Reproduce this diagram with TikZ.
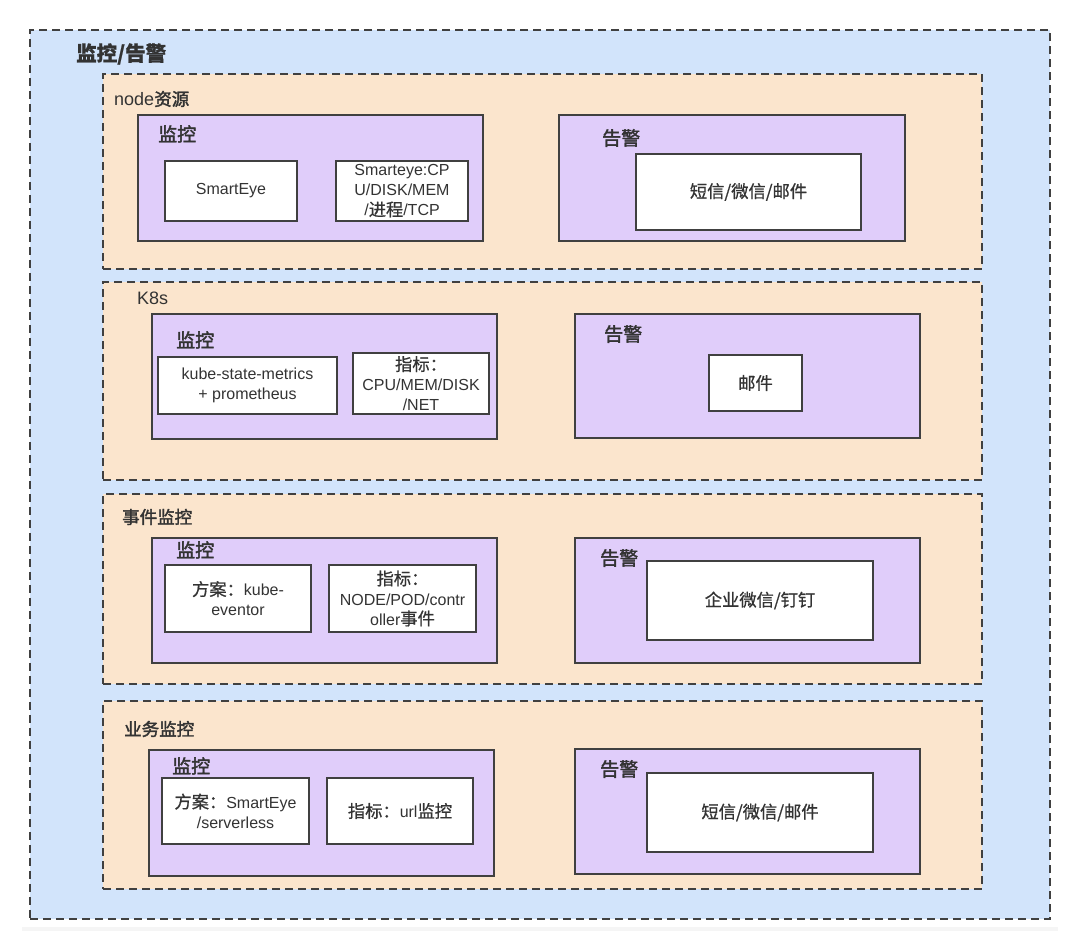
\documentclass[tikz,border=0pt]{standalone}
\usepackage{fontspec}
\setmainfont{Liberation Sans}
\newfontfamily\cjk{Noto Sans CJK SC}[FakeBold=0.8, Scale=1.08]
\newfontfamily\cjkmed{Noto Sans CJK SC}[FakeBold=2]
\usetikzlibrary{shadows}
\definecolor{bgblue}{HTML}{D2E4FB}
\definecolor{secorange}{HTML}{FBE5CD}
\definecolor{boxpurple}{HTML}{E0CDFA}
\definecolor{edge}{HTML}{404040}
\definecolor{ink}{HTML}{333333}
\tikzset{
  card/.style    = {fill=white, draw=none, inner sep=0pt,
                    drop shadow={opacity=0.08, shadow xshift=0pt, shadow yshift=-4pt}},
  outerbox/.style = {draw=edge, fill=bgblue, dash pattern=on 8pt off 5pt,
                    line width=1.5pt, inner sep=0pt},
  section/.style = {draw=edge, fill=secorange, dash pattern=on 8pt off 5pt,
                    line width=1.4pt, inner sep=0pt},
  panel/.style   = {draw=edge, fill=boxpurple, line width=1.4pt, inner sep=0pt},
  item/.style    = {draw=edge, fill=white, line width=1.4pt, align=center,
                    text=ink, font=\fontsize{16}{20}\selectfont, inner sep=2pt},
  title/.style   = {anchor=west, text=ink, inner sep=0pt,
                    font=\fontsize{19}{24}\selectfont\cjk\bfseries},
  sectitle/.style = {anchor=west, text=ink, inner sep=0pt,
                    font=\fontsize{18}{20}\selectfont},
  paneltitle/.style = {anchor=west, text=ink, inner sep=0pt,
                    font=\fontsize{19}{22}\selectfont\cjkmed}
}
\begin{document}
\begin{tikzpicture}[x=1pt, y=-1pt]
\useasboundingbox (0,0) rectangle (1080,949);

% outer frame
\node[card, minimum width=1036, minimum height=905]     at (540,474.5) (paper) {};
\node[outerbox, minimum width=1020, minimum height=889] at (540,474.5) (all)   {};
\node[title] at (76,54) (allt) {监控/告警};

% sections
\node[section, minimum width=879, minimum height=195] at (542.5,171.5) (sec1) {};
\node[section, minimum width=879, minimum height=198] at (542.5,381)   (sec2) {};
\node[section, minimum width=879, minimum height=190] at (542.5,589)   (sec3) {};
\node[section, minimum width=879, minimum height=188] at (542.5,795)   (sec4) {};
\node[sectitle] at (114,99)  (sec1t) {node{\fontsize{17.5}{20}\selectfont\cjkmed 资源}};
\node[sectitle] at (137,298) (sec2t) {K8s};
\node[sectitle] at (122,517) (sec3t) {\fontsize{17.5}{20}\selectfont\cjkmed 事件监控};
\node[sectitle] at (124,729) (sec4t) {\fontsize{17.5}{20}\selectfont\cjkmed 业务监控};

% node资源
\node[panel, minimum width=345, minimum height=126] at (310.5,178) (mon1) {};
\node[panel, minimum width=346, minimum height=126] at (732,178)   (alr1) {};
\node[paneltitle] at (158,134) (mon1t) {监控};
\node[paneltitle] at (602,138) (alr1t) {告警};
\node[item, minimum width=132, minimum height=60] at (231,191)   (smart)  {SmartEye};
\node[item, minimum width=132, minimum height=60] at (402,191)   (nodeidx) {Smarteye:CP\\U/DISK/MEM\\/{\cjk 进程}/TCP};
\node[item, minimum width=225, minimum height=76] at (748.5,192) (nodealr) {\cjk 短信/微信/邮件};

% K8s
\node[panel, minimum width=345, minimum height=125] at (324.5,376.5) (mon2) {};
\node[panel, minimum width=345, minimum height=124] at (747.5,376)   (alr2) {};
\node[paneltitle] at (176,340) (mon2t) {监控};
\node[paneltitle] at (604,334) (alr2t) {告警};
\node[item, minimum width=179, minimum height=57] at (247.5,385.5) (ksm)    {kube-state-metrics\\+ prometheus};
\node[item, minimum width=136, minimum height=61] at (421,383.5)   (k8sidx) {{\cjk 指标：}\\CPU/MEM/DISK\\/NET};
\node[item, minimum width=93,  minimum height=56] at (755.5,383)   (k8salr) {\cjk 邮件};

% 事件监控
\node[panel, minimum width=345, minimum height=125] at (324.5,600.5) (mon3) {};
\node[panel, minimum width=345, minimum height=125] at (747.5,600.5) (alr3) {};
\node[paneltitle] at (176,550) (mon3t) {监控};
\node[paneltitle] at (600,558) (alr3t) {告警};
\node[item, minimum width=146, minimum height=67] at (238,598.5)   (evplan) {{\cjk 方案：}kube-\\eventor};
\node[item, minimum width=147, minimum height=67] at (402.5,598.5) (evidx)  {{\cjk 指标：}\\NODE/POD/contr\\oller{\cjk 事件}};
\node[item, minimum width=226, minimum height=79] at (760,600.5)   (evalr)  {\cjk 企业微信/钉钉};

% 业务监控
\node[panel, minimum width=345, minimum height=126] at (321.5,813)   (mon4) {};
\node[panel, minimum width=345, minimum height=125] at (747.5,811.5) (alr4) {};
\node[paneltitle] at (172,766) (mon4t) {监控};
\node[paneltitle] at (600,769) (alr4t) {告警};
\node[item, minimum width=147, minimum height=66] at (235.5,811) (bizplan) {{\cjk 方案：}SmartEye\\/serverless};
\node[item, minimum width=146, minimum height=66] at (400,811)   (bizidx)  {{\cjk 指标：}url{\cjk 监控}};
\node[item, minimum width=226, minimum height=79] at (760,812.5) (bizalr)  {\cjk 短信/微信/邮件};
\end{tikzpicture}
\end{document}
